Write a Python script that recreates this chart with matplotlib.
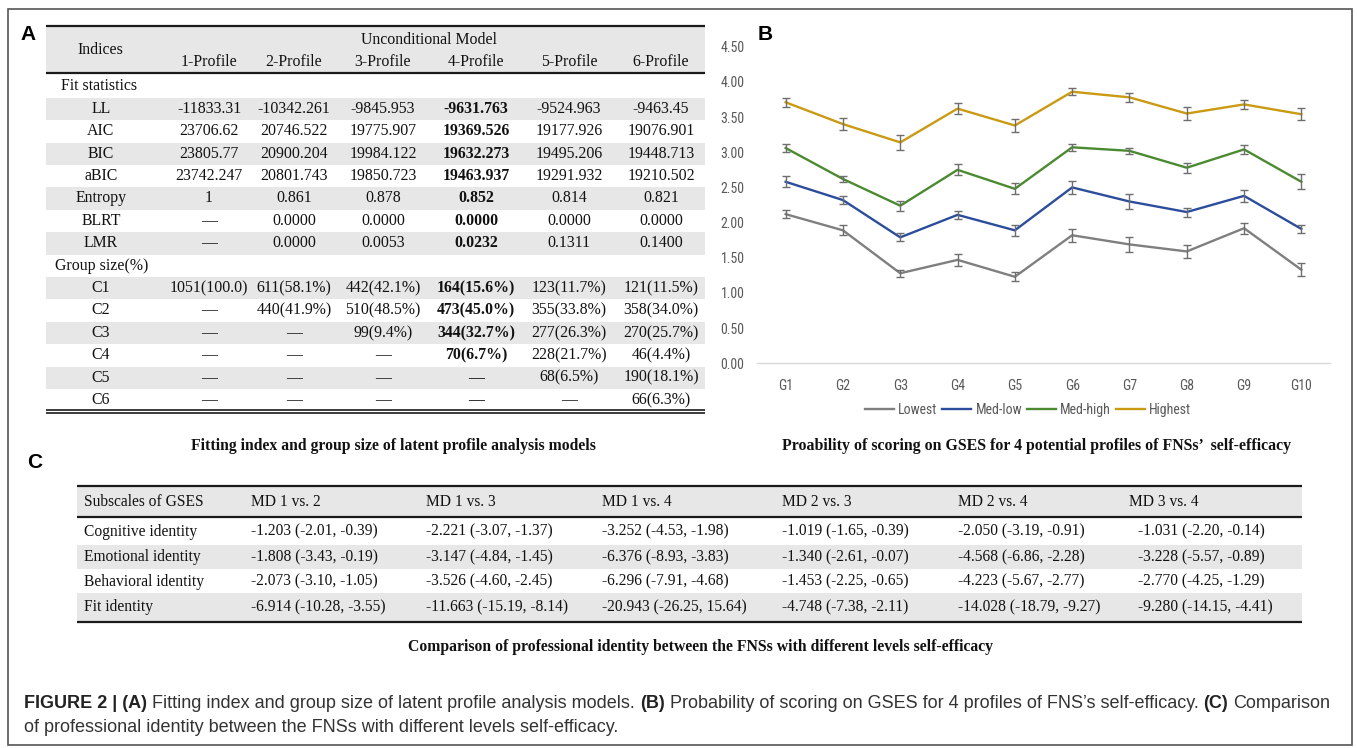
import matplotlib
matplotlib.use("Agg")
import matplotlib.pyplot as plt
import numpy as np
from matplotlib.lines import Line2D
from matplotlib.patches import Rectangle
from matplotlib import font_manager as fm
from matplotlib.ticker import FormatStrFormatter

# ---------------- data ----------------
profiles = ['1-Profile', '2-Profile', '3-Profile', '4-Profile', '5-Profile', '6-Profile']
fit_indices = ['LL', 'AIC', 'BIC', 'aBIC', 'Entropy', 'BLRT', 'LMR']
fit_values = [
    ['-11833.31', '-10342.261', '-9845.953', '-9631.763', '-9524.963', '-9463.45'],
    ['23706.62', '20746.522', '19775.907', '19369.526', '19177.926', '19076.901'],
    ['23805.77', '20900.204', '19984.122', '19632.273', '19495.206', '19448.713'],
    ['23742.247', '20801.743', '19850.723', '19463.937', '19291.932', '19210.502'],
    ['1', '0.861', '0.878', '0.852', '0.814', '0.821'],
    ['—', '0.0000', '0.0000', '0.0000', '0.0000', '0.0000'],
    ['—', '0.0000', '0.0053', '0.0232', '0.1311', '0.1400'],
]
group_labels = ['C1', 'C2', 'C3', 'C4', 'C5', 'C6']
group_values = [
    ['1051(100.0)', '611(58.1%)', '442(42.1%)', '164(15.6%)', '123(11.7%)', '121(11.5%)'],
    ['—', '440(41.9%)', '510(48.5%)', '473(45.0%)', '355(33.8%)', '358(34.0%)'],
    ['—', '—', '99(9.4%)', '344(32.7%)', '277(26.3%)', '270(25.7%)'],
    ['—', '—', '—', '70(6.7%)', '228(21.7%)', '46(4.4%)'],
    ['—', '—', '—', '—', '68(6.5%)', '190(18.1%)'],
    ['—', '—', '—', '—', '—', '66(6.3%)'],
]
best_profile = 3

groups = ['G1', 'G2', 'G3', 'G4', 'G5', 'G6', 'G7', 'G8', 'G9', 'G10']
series_names = ['Lowest', 'Med-low', 'Med-high', 'Highest']
lowest = [2.12, 1.89, 1.28, 1.47, 1.23, 1.82, 1.69, 1.59, 1.92, 1.33]
med_low = [2.58, 2.32, 1.79, 2.11, 1.89, 2.50, 2.30, 2.15, 2.38, 1.91]
med_high = [3.06, 2.62, 2.24, 2.75, 2.48, 3.07, 3.02, 2.78, 3.04, 2.58]
highest = [3.71, 3.40, 3.14, 3.62, 3.38, 3.86, 3.78, 3.55, 3.68, 3.54]
lowest_err = [0.052, 0.073, 0.050, 0.083, 0.064, 0.092, 0.104, 0.097, 0.076, 0.092]
med_low_err = [0.076, 0.060, 0.057, 0.052, 0.078, 0.088, 0.104, 0.064, 0.085, 0.054]
med_high_err = [0.057, 0.047, 0.073, 0.080, 0.076, 0.050, 0.040, 0.070, 0.060, 0.107]
highest_err = [0.066, 0.090, 0.110, 0.080, 0.090, 0.050, 0.064, 0.090, 0.066, 0.083]

md_headers = ['MD 1 vs. 2', 'MD 1 vs. 3', 'MD 1 vs. 4', 'MD 2 vs. 3', 'MD 2 vs. 4', 'MD 3 vs. 4']
subscales = ['Cognitive identity', 'Emotional identity', 'Behavioral identity', 'Fit identity']
md_values = [
    ['-1.203 (-2.01, -0.39)', '-2.221 (-3.07, -1.37)', '-3.252 (-4.53, -1.98)',
     '-1.019 (-1.65, -0.39)', '-2.050 (-3.19, -0.91)', '-1.031 (-2.20, -0.14)'],
    ['-1.808 (-3.43, -0.19)', '-3.147 (-4.84, -1.45)', '-6.376 (-8.93, -3.83)',
     '-1.340 (-2.61, -0.07)', '-4.568 (-6.86, -2.28)', '-3.228 (-5.57, -0.89)'],
    ['-2.073 (-3.10, -1.05)', '-3.526 (-4.60, -2.45)', '-6.296 (-7.91, -4.68)',
     '-1.453 (-2.25, -0.65)', '-4.223 (-5.67, -2.77)', '-2.770 (-4.25, -1.29)'],
    ['-6.914 (-10.28, -3.55)', '-11.663 (-15.19, -8.14)', '-20.943 (-26.25, 15.64)',
     '-4.748 (-7.38, -2.11)', '-14.028 (-18.79, -9.27)', '-9.280 (-14.15, -4.41)'],
]

caption_a = 'Fitting index and group size of latent profile analysis models'
caption_b = 'Proability of scoring on GSES for 4 potential profiles of FNSs’  self-efficacy'
caption_c = 'Comparison of professional identity between the FNSs with different levels self-efficacy'
fig_caption_1 = [('FIGURE 2 | (A)', True),
                 ('Fitting index and group size of latent profile analysis models.', False),
                 ('(B)', True),
                 ('Probability of scoring on GSES for 4 profiles of FNS’s self-efficacy.', False),
                 ('(C)', True), ('Comparison', False)]
fig_caption_2 = [('of professional identity between the FNSs with different levels self-efficacy.', False)]

# ---------------- setup ----------------
W, H = 1357, 748
fig = plt.figure(figsize=(W / 100, H / 100), dpi=100)
fig.patch.set_facecolor('white')
renderer = fig.canvas.get_renderer()

names = sorted({f.name for f in fm.fontManager.ttflist})
narrow = None
for pref in ['Liberation Sans Narrow', 'Roboto Condensed', 'Open Sans Condensed',
             'Noto Sans Condensed', 'DejaVu Sans Condensed']:
    if pref in names:
        narrow = pref
        break
if narrow is None:
    cands = [n for n in names if ('Narrow' in n or 'Condensed' in n) and 'Mono' not in n]
    narrow = cands[0] if cands else 'Liberation Sans'
chart_size = 10 if narrow != 'Liberation Sans' else 9

SERIF = ['Liberation Serif', 'DejaVu Serif']
SANS = ['Liberation Sans', 'DejaVu Sans']
GRAY_BAND = '#e7e7e7'


def fx(x):
    return x / W


def fy(y):
    return 1 - y / H


def hline(x0, x1, y, lw=1.4, color='#1a1a1a'):
    fig.add_artist(Line2D([fx(x0), fx(x1)], [fy(y), fy(y)], transform=fig.transFigure,
                          lw=lw, color=color, solid_capstyle='butt'))


def band(x0, x1, y0, y1, color=GRAY_BAND):
    fig.add_artist(Rectangle((fx(x0), fy(y1)), (x1 - x0) / W, (y1 - y0) / H,
                             transform=fig.transFigure, facecolor=color, edgecolor='none', zorder=0))


def txt(x, y, s, ha='center', size=11, family=SERIF, weight='normal', color='#111111'):
    return fig.text(fx(x), fy(y), s, ha=ha, va='center', fontsize=size, family=family,
                    weight=weight, color=color)


def fitted(x, y, s, target, ha='center', family=SERIF, weight='bold', color='#111111'):
    t = txt(x, y, s, ha=ha, size=10, family=family, weight=weight, color=color)
    w = t.get_window_extent(renderer).width
    t.set_fontsize(10 * target / w)
    return t


def space_width(size):
    sp = fig.text(0, 0, 'a a', fontsize=size, family=SANS)
    ns = fig.text(0, 0, 'aa', fontsize=size, family=SANS)
    sw = sp.get_window_extent(renderer).width - ns.get_window_extent(renderer).width
    sp.remove()
    ns.remove()
    return sw


def segmented(x, y, segs, size, color='#333333'):
    sw = space_width(size)
    cur = x
    for s, b in segs:
        t = fig.text(fx(cur), fy(y), s, ha='left', va='center', fontsize=size, family=SANS,
                     weight='bold' if b else 'normal', color='#222222' if b else color)
        cur += t.get_window_extent(renderer).width + sw


def segmented_width(segs, size):
    tot = 0
    for s, b in segs:
        t = fig.text(0, 0, s, fontsize=size, family=SANS, weight='bold' if b else 'normal')
        tot += t.get_window_extent(renderer).width
        t.remove()
    return tot + space_width(size) * (len(segs) - 1)


# outer border
fig.add_artist(Rectangle((fx(8), fy(745)), (1352 - 8) / W, (745 - 9) / H, transform=fig.transFigure,
                         facecolor='none', edgecolor='#555555', lw=1.2))

# ---------------- Panel A ----------------
TA_L, TA_R = 46, 705
A_SIZE = 11.4
col_x = [209, 294, 383, 476, 569, 661]
band(TA_L, TA_R, 25, 73)
hline(TA_L, TA_R, 25.5, lw=1.6)
hline(TA_L, TA_R, 73, lw=1.6)
txt(100, 50.5, 'Indices', size=A_SIZE)
txt(429, 40, 'Unconditional Model', size=A_SIZE)
for cx, p in zip(col_x, profiles):
    txt(cx, 61.5, p, size=A_SIZE)

row_h = 22.4
row0 = 86.5
rows = [('Fit statistics', None)] + [(n, v) for n, v in zip(fit_indices, fit_values)] + \
       [('Group size(%)', None)] + [(n, v) for n, v in zip(group_labels, group_values)]
for i, (label, vals) in enumerate(rows):
    yc = row0 + i * row_h
    if i % 2 == 1:
        band(TA_L, TA_R, yc - row_h / 2, yc + row_h / 2)
    if vals is None:
        lx = 61 if label == 'Fit statistics' else 55
        txt(lx, yc, label, ha='left', size=A_SIZE)
    else:
        txt(101, yc, label, size=A_SIZE)
        for j, (cx, v) in enumerate(zip(col_x, vals)):
            txt(cx, yc, v, size=A_SIZE, weight='bold' if j == best_profile else 'normal')
hline(TA_L, TA_R, 409.5, lw=1.2)
hline(TA_L, TA_R, 412.5, lw=1.2)
fitted(393.5, 446, caption_a, 406)
fig.text(fx(28.5), fy(35), 'A', ha='center', va='center', fontsize=15, family=SANS, weight='bold')

# ---------------- Panel B ----------------
ax = fig.add_axes([fx(757), fy(363.3), (1330 - 757) / W, (363.3 - 46.7) / H])
xs = np.arange(len(groups))
colors = ['#7f7f7f', '#2b4d9c', '#4b8a30', '#c99a12']
all_vals = [lowest, med_low, med_high, highest]
all_errs = [lowest_err, med_low_err, med_high_err, highest_err]
for name, vals, errs, col in zip(series_names, all_vals, all_errs, colors):
    ax.plot(xs, vals, color=col, lw=1.7, label=name, zorder=2)
    ax.errorbar(xs, vals, yerr=errs, fmt='none', ecolor='#6e6e6e', elinewidth=1.0,
                capsize=2.6, capthick=1.0, zorder=3)
ax.set_xlim(-0.5, len(groups) - 0.5)
ax.set_ylim(0, 4.5)
ax.set_yticks(np.arange(0, 4.51, 0.5))
ax.yaxis.set_major_formatter(FormatStrFormatter('%.2f'))
ax.set_xticks(xs)
ax.set_xticklabels(groups)
for s in ['top', 'right', 'left']:
    ax.spines[s].set_visible(False)
ax.spines['bottom'].set_color('#d9d9d9')
ax.spines['bottom'].set_linewidth(1.0)
ax.tick_params(axis='both', length=0, labelsize=chart_size, labelcolor='#595959')
ax.tick_params(axis='y', pad=9)
ax.tick_params(axis='x', pad=11)
for lab in ax.get_xticklabels() + ax.get_yticklabels():
    lab.set_family(narrow)
ax.patch.set_alpha(0)
leg = fig.legend(loc='center', bbox_to_anchor=(fx(1028), fy(410)), ncol=4, frameon=False,
                 handlelength=2.1, handletextpad=0.3, columnspacing=0.35,
                 prop={'family': narrow, 'size': chart_size})
for t in leg.get_texts():
    t.set_color('#595959')
fitted(1036.5, 446, caption_b, 509)
fig.text(fx(765), fy(35), 'B', ha='center', va='center', fontsize=15, family=SANS, weight='bold')

# ---------------- Panel C ----------------
TC_L, TC_R = 77, 1302
C_SIZE = 11.2
band(TC_L, TC_R, 486, 516)
hline(TC_L, TC_R, 486, lw=1.6)
hline(TC_L, TC_R, 516.5, lw=1.6)
hdr_x = [251, 426, 602, 782, 958, 1129]
val_x = [251, 426, 602, 782, 958, 1138]
txt(84, 501.5, 'Subscales of GSES', ha='left', size=C_SIZE)
for hx, h in zip(hdr_x, md_headers):
    txt(hx, 501.5, h, ha='left', size=C_SIZE)
row_bounds = [(517, 545), (545, 569), (569, 593), (593, 621)]
row_cy = [531.7, 557, 581.7, 607]
for i, (lab, vals) in enumerate(zip(subscales, md_values)):
    y0, y1 = row_bounds[i]
    if i % 2 == 1:
        band(TC_L, TC_R, y0, y1)
    txt(84, row_cy[i], lab, ha='left', size=C_SIZE)
    for vx, v in zip(val_x, vals):
        txt(vx, row_cy[i], v, ha='left', size=C_SIZE)
hline(TC_L, TC_R, 621.5, lw=1.6)
fitted(701, 647, caption_c, 588)
fig.text(fx(35), fy(463), 'C', ha='center', va='center', fontsize=15, family=SANS, weight='bold')

# ---------------- Figure caption ----------------
w12 = segmented_width(fig_caption_1, 12)
cap_size = 12 * 1304 / w12
segmented(24, 704, fig_caption_1, cap_size)
segmented(24, 728, fig_caption_2, cap_size)

fig.savefig('out.png', dpi=100, facecolor='white')
